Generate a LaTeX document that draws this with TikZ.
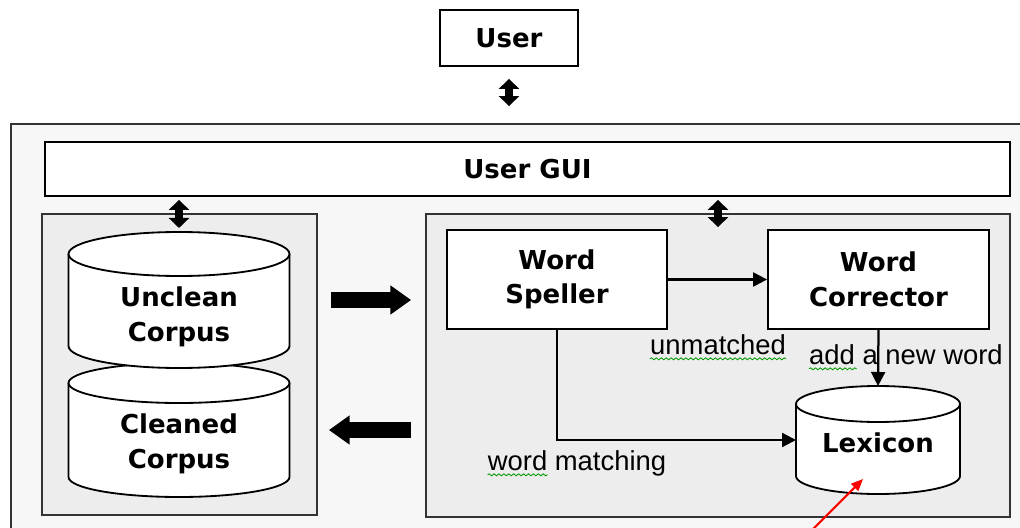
\documentclass[tikz,border=0pt]{standalone}
\usepackage{fontspec}
\setmainfont{Liberation Sans}
\newfontfamily\boxfont{DejaVu Sans}
\usetikzlibrary{arrows.meta,decorations.pathmorphing}

% drum outline round an empty node: name, half width, y radius
\newcommand{\dbdrum}[3]{%
  \draw[dbline] ([yshift=-#3]#1.north west) -- ([yshift=#3]#1.south west)
    arc[start angle=180, end angle=360, x radius=#2, y radius=#3]
    -- ([yshift=-#3]#1.north east)
    arc[start angle=0, end angle=180, x radius=#2, y radius=#3] -- cycle;
  \draw[dbline] ([yshift=-#3]#1.north west)
    arc[start angle=180, end angle=360, x radius=#2, y radius=#3];}

\begin{document}
\begin{tikzpicture}[
  box/.style={draw, rectangle, fill=white, line width=1.3pt, align=center, font={\fontsize{18.5}{24.5}\boxfont\bfseries}},
  panel/.style={draw=black!80, rectangle, fill=black!7, line width=1.3pt},
  dbslot/.style={rectangle, inner sep=0pt, outer sep=0pt},
  dbline/.style={draw, fill=white, line width=1.3pt},
  dbtxt/.style={align=center, font={\fontsize{18.5}{24.5}\boxfont\bfseries}},
  lbl/.style={inner sep=0pt, font={\fontsize{19.5}{23}\selectfont}},
  link/.style={line width=1.6pt, -{Triangle[length=0.35cm,width=0.35cm]}},
  dbl/.style={line width=0.2cm, {Triangle[length=0.25cm,width=0.5cm]}-{Triangle[length=0.25cm,width=0.5cm]}},
  fat/.style={line width=0.4cm, -{Triangle[length=0.52cm,width=0.7cm]}},
  squig/.style={draw=green!60!black, line width=0.6pt, decorate, decoration={snake, amplitude=0.7pt, segment length=3.5pt}}
]
\useasboundingbox (0,0) rectangle (25.5,-13.2);
\clip (0,0) rectangle (25.5,-13.2);

\node[box, minimum width=3.45cm, minimum height=1.4cm] (user) at (12.725,-0.95) {User};
\node[panel, fill=black!3, minimum width=25.475cm, minimum height=10.4cm] (outer) at (13.0125,-8.3) {};
\node[box, minimum width=24.125cm, minimum height=1.35cm] (gui) at (13.1875,-4.225) {User GUI};
\node[panel, minimum width=6.875cm, minimum height=7.525cm] (corpusbox) at (4.4875,-9.1125) {};
\node[panel, minimum width=14.6cm, minimum height=7.575cm] (spellbox) at (17.95,-9.1375) {};

% corpora
\node[dbslot, minimum width=5.525cm, minimum height=3.35cm] (cleaned) at (4.475,-10.75) {};
\dbdrum{cleaned}{2.7625cm}{0.5cm}
\node[dbtxt] (cleanedtext) at ([yshift=-0.35cm]cleaned.center) {Cleaned\\Corpus};
\node[dbslot, minimum width=5.525cm, minimum height=3.4cm] (unclean) at (4.475,-7.5) {};
\dbdrum{unclean}{2.7625cm}{0.55cm}
\node[dbtxt] (uncleantext) at ([yshift=-0.425cm]unclean.center) {Unclean\\Corpus};

% speller part
\node[box, minimum width=5.5cm, minimum height=2.475cm] (speller) at (13.925,-6.9875) {Word\\Speller};
\node[box, minimum width=5.525cm, minimum height=2.475cm] (corrector) at (21.9625,-6.9875) {Word\\Corrector};
\node[dbslot, minimum width=4.1cm, minimum height=2.7cm] (lexicon) at (21.95,-11.0) {};
\dbdrum{lexicon}{2.05cm}{0.45cm}
\node[dbtxt] (lexicontext) at ([yshift=-0.075cm]lexicon.center) {Lexicon};

\node[lbl, anchor=base] (unmatched) at (17.95,-8.85) {unmatched};
\node[lbl, anchor=base] (addword) at (22.65,-9.1) {add a new word};
\node[lbl, anchor=base] (matching) at (14.425,-11.75) {word matching};
\draw[squig] ([yshift=-0.12cm]unmatched.base west) -- ([yshift=-0.12cm]unmatched.base east);
\draw[squig] ([yshift=-0.12cm]addword.base west) -- ++(1.2cm,0);
\draw[squig] ([yshift=-0.12cm]matching.base west) -- ++(1.5cm,0);

\draw[dbl, shorten <=0.3cm, shorten >=0.425cm] (user.south) -- (user.south |- outer.north);
\draw[dbl, shorten <=0.075cm, shorten >=0.1cm] (unclean.north |- gui.south) -- (unclean.north);
\draw[dbl, shorten <=0.075cm, shorten >=-0.35cm] (spellbox.north |- gui.south) -- (spellbox.north);
\draw[fat, shorten <=0.325cm, shorten >=0.35cm] (unclean -| corpusbox.east) -- (unclean -| spellbox.west);
\draw[fat, shorten <=0.35cm, shorten >=0.275cm] (cleaned -| spellbox.west) -- (cleaned -| corpusbox.east);
\draw[link] (speller) -- (corrector);
\draw[link] (corrector.south) -- (lexicon.north);
\draw[link] (speller.south) |- (lexicon.west);

\coordinate (pointer) at (20.25,-13.3);
\draw[red, line width=1.5pt, -{Triangle[length=0.3cm,width=0.25cm]}] (pointer) -- ([xshift=-0.375cm,yshift=-0.975cm]lexicon.center);
\end{tikzpicture}
\end{document}
